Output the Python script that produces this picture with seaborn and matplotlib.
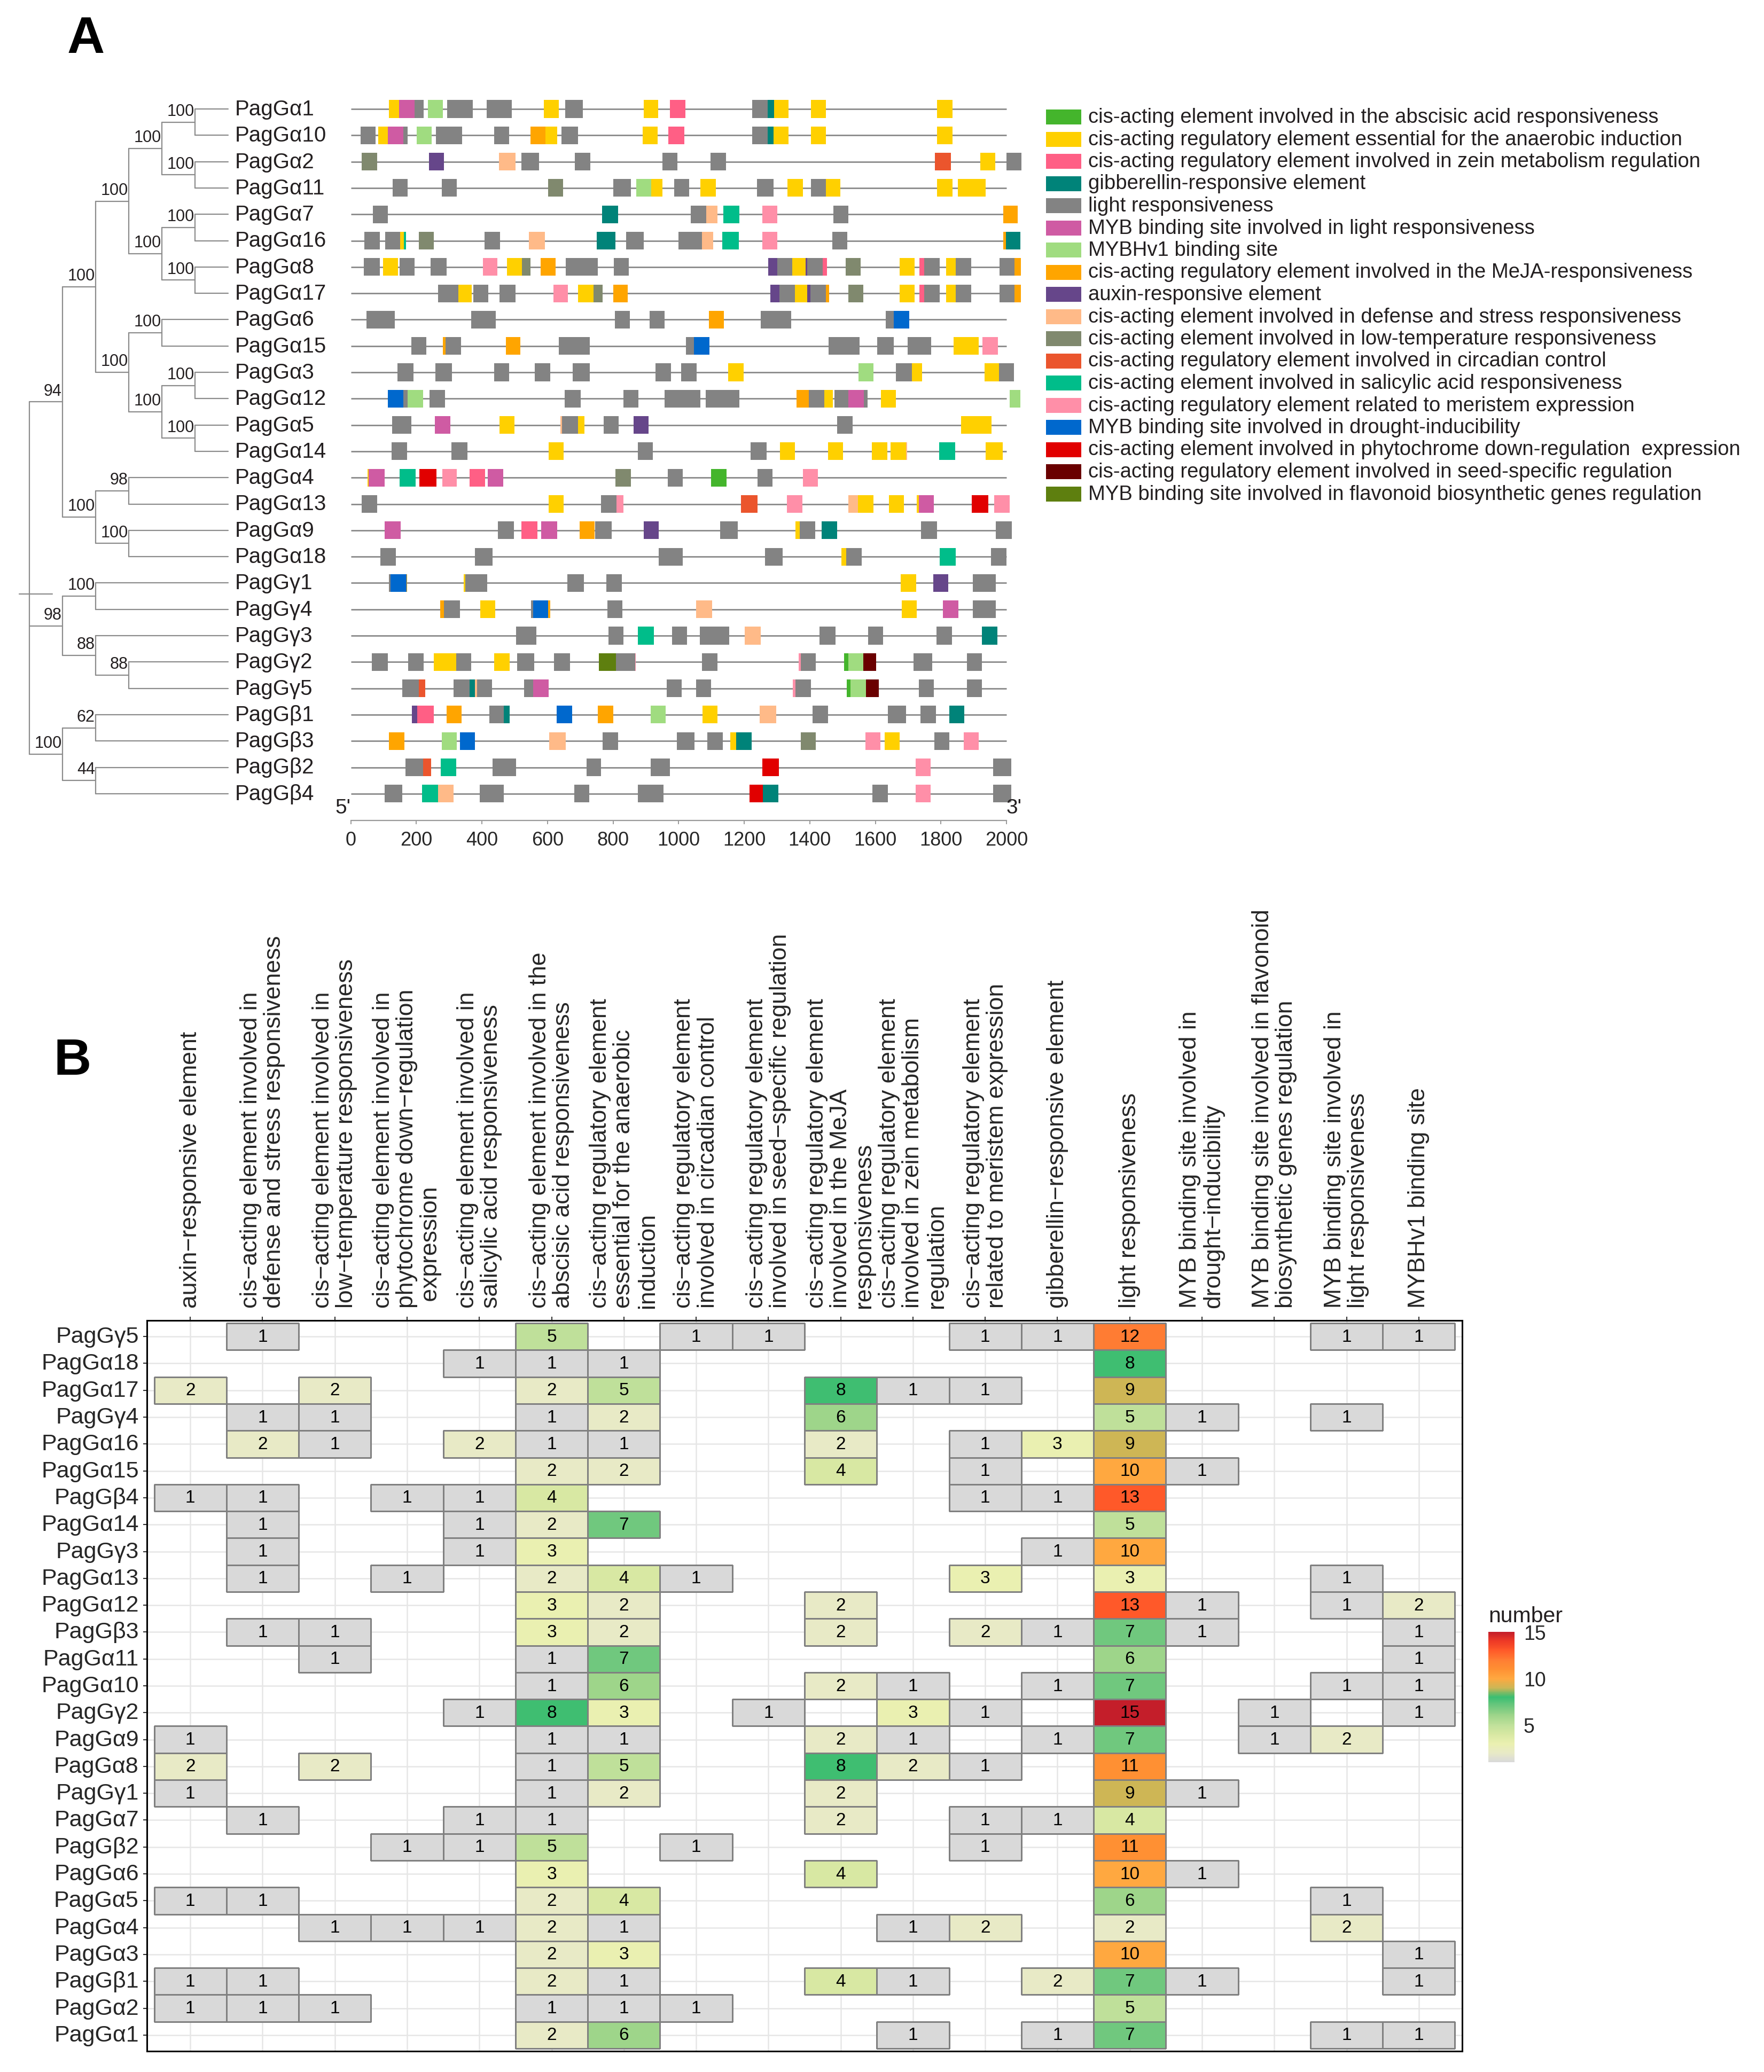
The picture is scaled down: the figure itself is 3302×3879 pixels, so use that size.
import numpy as np
import pandas as pd
import seaborn as sns
import matplotlib.pyplot as plt
from matplotlib.colors import LinearSegmentedColormap, to_rgba
from matplotlib.patches import Rectangle

sns.set_theme(style="white")
plt.rcParams['font.family'] = ['Liberation Sans', 'DejaVu Sans']
plt.rcParams['text.color'] = '#231f20'

W, H = 3302, 3880

# ---------------- panel A data ----------------
element_codes = ['aba', 'ana', 'zein', 'ga', 'light', 'mybl', 'hv1', 'meja', 'aux',
                 'def', 'lt', 'circ', 'sa', 'mer', 'dro', 'phy', 'seed', 'flav']
element_names = [
    'cis-acting element involved in the abscisic acid responsiveness',
    'cis-acting regulatory element essential for the anaerobic induction',
    'cis-acting regulatory element involved in zein metabolism regulation',
    'gibberellin-responsive element',
    'light responsiveness',
    'MYB binding site involved in light responsiveness',
    'MYBHv1 binding site',
    'cis-acting regulatory element involved in the MeJA-responsiveness',
    'auxin-responsive element',
    'cis-acting element involved in defense and stress responsiveness',
    'cis-acting element involved in low-temperature responsiveness',
    'cis-acting regulatory element involved in circadian control',
    'cis-acting element involved in salicylic acid responsiveness',
    'cis-acting regulatory element related to meristem expression',
    'MYB binding site involved in drought-inducibility',
    'cis-acting element involved in phytochrome down-regulation  expression',
    'cis-acting regulatory element involved in seed-specific regulation',
    'MYB binding site involved in flavonoid biosynthetic genes regulation',
]
element_colors = ['#44b52c', '#ffd000', '#ff5f85', '#008379', '#838383', '#cf5ba3',
                  '#a0dc80', '#ffa500', '#66468a', '#ffba88', '#80896e', '#eb552d',
                  '#00bd8a', '#ff8fa8', '#0068cd', '#e10000', '#6a0000', '#5e7f0f']

promoter_len = 2000

newick = ("((((((PagGα1,PagGα10)100,(PagGα2,PagGα11)100)100,((PagGα7,PagGα16)100,(PagGα8,PagGα17)100)100)100,"
          "((PagGα6,PagGα15)100,((PagGα3,PagGα12)100,(PagGα5,PagGα14)100)100)100)100,"
          "((PagGα4,PagGα13)98,(PagGα9,PagGα18)100)100)94,"
          "((PagGγ1,PagGγ4)100,(PagGγ3,(PagGγ2,PagGγ5)88)88)98,"
          "((PagGβ1,PagGβ3)62,(PagGβ2,PagGβ4)44)100);")

# motif hits per gene: (element, start bp, end bp)
ga1 = [('ana', 117, 147), ('mybl', 147, 194), ('light', 194, 223), ('hv1', 235, 281), ('light', 294, 372),
       ('light', 414, 491), ('ana', 589, 635), ('light', 654, 708), ('ana', 893, 938), ('zein', 973, 1021),
       ('light', 1225, 1271), ('ga', 1271, 1292), ('ana', 1292, 1336), ('ana', 1403, 1450), ('ana', 1788, 1835)]
ga10 = [('light', 30, 76), ('ana', 84, 113), ('mybl', 113, 160), ('light', 160, 174), ('hv1', 201, 247),
        ('light', 260, 339), ('light', 437, 483), ('meja', 548, 594), ('ana', 594, 629), ('light', 642, 694),
        ('ana', 890, 936), ('zein', 969, 1018), ('light', 1225, 1271), ('ga', 1271, 1290), ('ana', 1290, 1336),
        ('ana', 1403, 1449), ('ana', 1788, 1835)]
ga2 = [('lt', 34, 80), ('aux', 239, 285), ('def', 452, 502), ('light', 521, 575), ('light', 683, 731),
       ('light', 951, 996), ('light', 1098, 1145), ('circ', 1782, 1831), ('ana', 1920, 1966), ('light', 2000, 2046)]
ga11 = [('light', 128, 174), ('light', 277, 323), ('lt', 602, 648), ('light', 801, 854), ('hv1', 871, 917),
        ('ana', 917, 951), ('light', 986, 1032), ('ana', 1066, 1113), ('light', 1239, 1289), ('ana', 1332, 1379),
        ('light', 1403, 1449), ('ana', 1449, 1493), ('ana', 1788, 1835), ('ana', 1851, 1937)]
ga7 = [('light', 68, 114), ('ga', 767, 815), ('light', 1037, 1084), ('def', 1084, 1118), ('sa', 1136, 1185),
       ('mer', 1256, 1301), ('light', 1472, 1518), ('meja', 1991, 2035)]
ga16 = [('light', 42, 88), ('light', 105, 151), ('ana', 151, 162), ('sa', 162, 168), ('lt', 207, 253),
        ('light', 408, 456), ('def', 543, 592), ('ga', 750, 808), ('light', 840, 893), ('light', 999, 1071),
        ('def', 1071, 1106), ('sa', 1134, 1184), ('mer', 1255, 1301), ('light', 1469, 1514), ('meja', 1991, 1999),
        ('ga', 1999, 2043)]
ga8 = [('light', 40, 89), ('ana', 98, 144), ('light', 149, 195), ('light', 244, 293), ('mer', 403, 448),
       ('ana', 476, 522), ('lt', 522, 549), ('meja', 579, 625), ('light', 656, 754), ('light', 802, 848),
       ('aux', 1273, 1301), ('light', 1301, 1347), ('ana', 1347, 1387), ('aux', 1387, 1393), ('light', 1393, 1440),
       ('zein', 1440, 1453), ('lt', 1509, 1555), ('ana', 1674, 1720), ('zein', 1735, 1749), ('light', 1749, 1797),
       ('ana', 1816, 1846), ('light', 1846, 1892), ('light', 1979, 2025), ('meja', 2025, 2044)]
ga17 = [('light', 266, 329), ('ana', 329, 369), ('light', 374, 419), ('light', 454, 502), ('mer', 618, 663),
        ('ana', 694, 741), ('lt', 741, 768), ('meja', 800, 844), ('aux', 1280, 1307), ('light', 1307, 1354),
        ('ana', 1354, 1393), ('aux', 1393, 1402), ('light', 1402, 1449), ('meja', 1449, 1459), ('lt', 1518, 1564),
        ('ana', 1674, 1720), ('zein', 1735, 1749), ('light', 1749, 1797), ('ana', 1816, 1846), ('light', 1846, 1892),
        ('light', 1979, 2025), ('meja', 2025, 2044)]
ga6 = [('light', 48, 135), ('light', 368, 443), ('light', 806, 852), ('light', 911, 957), ('meja', 1093, 1138),
       ('light', 1251, 1343), ('light', 1631, 1656), ('dro', 1656, 1703)]
ga15 = [('light', 185, 231), ('meja', 281, 289), ('light', 289, 337), ('meja', 474, 518), ('light', 635, 729),
        ('light', 1022, 1047), ('dro', 1047, 1094), ('light', 1457, 1552), ('light', 1605, 1657),
        ('light', 1699, 1770), ('ana', 1839, 1916), ('mer', 1927, 1974)]
ga3 = [('light', 143, 191), ('light', 259, 309), ('light', 438, 483), ('light', 562, 609), ('light', 677, 729),
       ('light', 930, 977), ('light', 1008, 1055), ('ana', 1151, 1198), ('hv1', 1549, 1595), ('light', 1663, 1712),
       ('ana', 1712, 1742), ('ana', 1934, 1977), ('light', 1977, 2023)]
ga12 = [('dro', 114, 161), ('light', 161, 174), ('hv1', 174, 221), ('light', 241, 287), ('light', 653, 702),
        ('light', 832, 878), ('light', 957, 1067), ('light', 1082, 1185), ('meja', 1359, 1397), ('light', 1397, 1445),
        ('ana', 1445, 1471), ('light', 1475, 1518), ('mybl', 1518, 1565), ('light', 1565, 1576), ('ana', 1617, 1663),
        ('hv1', 2009, 2043)]
ga5 = [('light', 126, 185), ('mybl', 257, 304), ('ana', 454, 500), ('def', 640, 644), ('light', 644, 694),
       ('ana', 694, 713), ('light', 771, 817), ('aux', 863, 909), ('light', 1484, 1530), ('ana', 1861, 1955)]
ga14 = [('light', 124, 172), ('light', 307, 356), ('ana', 603, 650), ('light', 875, 921), ('light', 1219, 1268),
        ('ana', 1309, 1355), ('ana', 1455, 1501), ('ana', 1590, 1636), ('ana', 1647, 1693), ('def', 1693, 1697),
        ('sa', 1794, 1843), ('ana', 1937, 1988)]
ga4 = [('ana', 51, 55), ('mybl', 55, 103), ('sa', 149, 198), ('phy', 210, 261), ('mer', 279, 324),
       ('zein', 362, 410), ('mybl', 418, 465), ('lt', 807, 854), ('light', 967, 1013), ('aba', 1099, 1146),
       ('light', 1240, 1286), ('mer', 1379, 1425)]
ga13 = [('light', 33, 80), ('ana', 603, 650), ('light', 764, 810), ('mer', 810, 831), ('circ', 1191, 1240),
        ('mer', 1330, 1378), ('def', 1517, 1547), ('ana', 1547, 1594), ('ana', 1641, 1687), ('ana', 1727, 1732),
        ('mybl', 1732, 1779), ('phy', 1894, 1945), ('mer', 1963, 2010)]
ga9 = [('mybl', 104, 152), ('light', 449, 497), ('zein', 521, 570), ('mybl', 581, 629), ('meja', 698, 744),
       ('light', 746, 796), ('aux', 893, 939), ('light', 1127, 1180), ('ana', 1356, 1370), ('light', 1370, 1417),
       ('ga', 1437, 1484), ('light', 1739, 1789), ('light', 1968, 2016)]
ga18 = [('light', 91, 137), ('light', 379, 433), ('light', 940, 1012), ('light', 1264, 1317), ('ana', 1496, 1511),
        ('light', 1511, 1559), ('sa', 1796, 1845), ('light', 1952, 2000)]
gy1 = [('light', 116, 122), ('dro', 122, 170), ('meja', 170, 172), ('ana', 345, 349), ('light', 349, 416),
       ('light', 660, 712), ('light', 779, 827), ('ana', 1678, 1724), ('aux', 1776, 1822), ('light', 1898, 1968)]
gy4 = [('meja', 273, 285), ('light', 285, 333), ('ana', 395, 441), ('light', 550, 557), ('dro', 557, 602),
       ('meja', 602, 608), ('light', 783, 829), ('def', 1053, 1102), ('ana', 1680, 1726), ('mybl', 1806, 1853),
       ('light', 1898, 1968)]
gy3 = [('light', 504, 566), ('light', 786, 832), ('sa', 876, 925), ('light', 980, 1026), ('light', 1065, 1155),
       ('def', 1201, 1251), ('light', 1429, 1478), ('light', 1578, 1624), ('light', 1787, 1833), ('ga', 1925, 1972)]
gy2 = [('light', 65, 114), ('light', 175, 222), ('ana', 254, 322), ('light', 322, 368), ('ana', 438, 484),
       ('light', 508, 560), ('light', 620, 669), ('flav', 757, 809), ('light', 809, 867), ('mer', 867, 869),
       ('light', 1072, 1118), ('mer', 1366, 1372), ('light', 1372, 1419), ('aba', 1505, 1517), ('hv1', 1517, 1563),
       ('seed', 1563, 1602), ('light', 1717, 1774), ('light', 1879, 1925)]
gy5 = [('light', 157, 207), ('circ', 207, 227), ('light', 314, 363), ('ga', 363, 379), ('def', 379, 385),
       ('light', 385, 431), ('light', 528, 556), ('mybl', 556, 604), ('light', 963, 1010), ('light', 1053, 1099),
       ('mer', 1349, 1357), ('light', 1357, 1403), ('aba', 1513, 1525), ('hv1', 1525, 1571), ('seed', 1571, 1610),
       ('light', 1732, 1779), ('light', 1879, 1925)]
gb1 = [('aux', 187, 203), ('zein', 203, 253), ('meja', 293, 338), ('light', 422, 467), ('ga', 467, 484),
       ('dro', 628, 675), ('meja', 754, 800), ('hv1', 915, 961), ('ana', 1073, 1119), ('def', 1248, 1297),
       ('light', 1408, 1455), ('light', 1638, 1693), ('light', 1738, 1785), ('ga', 1826, 1872)]
gb3 = [('meja', 117, 163), ('hv1', 277, 323), ('dro', 333, 379), ('def', 606, 656), ('light', 769, 816),
       ('light', 995, 1048), ('light', 1088, 1135), ('ana', 1157, 1176), ('ga', 1176, 1223), ('lt', 1372, 1418),
       ('mer', 1570, 1616), ('ana', 1628, 1674), ('light', 1780, 1826), ('mer', 1870, 1916)]
gb2 = [('light', 167, 220), ('circ', 220, 245), ('sa', 274, 322), ('light', 432, 504), ('light', 719, 764),
       ('light', 915, 973), ('phy', 1255, 1306), ('mer', 1723, 1768), ('light', 1960, 2014)]
gb4 = [('light', 103, 157), ('sa', 218, 267), ('def', 267, 314), ('light', 393, 466), ('light', 682, 728),
       ('light', 875, 954), ('phy', 1216, 1257), ('ga', 1257, 1305), ('light', 1591, 1638), ('mer', 1723, 1769),
       ('light', 1960, 2014)]

motif_tracks = {
    'PagGα1': ga1, 'PagGα10': ga10, 'PagGα2': ga2, 'PagGα11': ga11, 'PagGα7': ga7, 'PagGα16': ga16,
    'PagGα8': ga8, 'PagGα17': ga17, 'PagGα6': ga6, 'PagGα15': ga15, 'PagGα3': ga3, 'PagGα12': ga12,
    'PagGα5': ga5, 'PagGα14': ga14, 'PagGα4': ga4, 'PagGα13': ga13, 'PagGα9': ga9, 'PagGα18': ga18,
    'PagGγ1': gy1, 'PagGγ4': gy4, 'PagGγ3': gy3, 'PagGγ2': gy2, 'PagGγ5': gy5,
    'PagGβ1': gb1, 'PagGβ3': gb3, 'PagGβ2': gb2, 'PagGβ4': gb4,
}

# ---------------- panel B data ----------------
heat_genes = ['PagGγ5', 'PagGα18', 'PagGα17', 'PagGγ4', 'PagGα16', 'PagGα15', 'PagGβ4', 'PagGα14', 'PagGγ3',
              'PagGα13', 'PagGα12', 'PagGβ3', 'PagGα11', 'PagGα10', 'PagGγ2', 'PagGα9', 'PagGα8', 'PagGγ1',
              'PagGα7', 'PagGβ2', 'PagGα6', 'PagGα5', 'PagGα4', 'PagGα3', 'PagGβ1', 'PagGα2', 'PagGα1']
heat_elements = [
    'auxin−responsive element',
    'cis−acting element involved in\ndefense and stress responsiveness',
    'cis−acting element involved in\nlow−temperature responsiveness',
    'cis−acting element involved in\nphytochrome down−regulation\n expression',
    'cis−acting element involved in\nsalicylic acid responsiveness',
    'cis−acting element involved in the\nabscisic acid responsiveness',
    'cis−acting regulatory element\nessential for the anaerobic\ninduction',
    'cis−acting regulatory element\ninvolved in circadian control',
    'cis−acting regulatory element\ninvolved in seed−specific regulation',
    'cis−acting regulatory element\ninvolved in the MeJA\nresponsiveness',
    'cis−acting regulatory element\ninvolved in zein metabolism\nregulation',
    'cis−acting regulatory element\nrelated to meristem expression',
    'gibberellin−responsive element',
    'light responsiveness',
    'MYB binding site involved in\ndrought−inducibility',
    'MYB binding site involved in flavonoid\nbiosynthetic genes regulation',
    'MYB binding site involved in\nlight responsiveness',
    'MYBHv1 binding site',
]
element_counts = [
    [0, 1, 0, 0, 0, 5, 0, 1, 1, 0, 0, 1, 1, 12, 0, 0, 1, 1],
    [0, 0, 0, 0, 1, 1, 1, 0, 0, 0, 0, 0, 0, 8, 0, 0, 0, 0],
    [2, 0, 2, 0, 0, 2, 5, 0, 0, 8, 1, 1, 0, 9, 0, 0, 0, 0],
    [0, 1, 1, 0, 0, 1, 2, 0, 0, 6, 0, 0, 0, 5, 1, 0, 1, 0],
    [0, 2, 1, 0, 2, 1, 1, 0, 0, 2, 0, 1, 3, 9, 0, 0, 0, 0],
    [0, 0, 0, 0, 0, 2, 2, 0, 0, 4, 0, 1, 0, 10, 1, 0, 0, 0],
    [1, 1, 0, 1, 1, 4, 0, 0, 0, 0, 0, 1, 1, 13, 0, 0, 0, 0],
    [0, 1, 0, 0, 1, 2, 7, 0, 0, 0, 0, 0, 0, 5, 0, 0, 0, 0],
    [0, 1, 0, 0, 1, 3, 0, 0, 0, 0, 0, 0, 1, 10, 0, 0, 0, 0],
    [0, 1, 0, 1, 0, 2, 4, 1, 0, 0, 0, 3, 0, 3, 0, 0, 1, 0],
    [0, 0, 0, 0, 0, 3, 2, 0, 0, 2, 0, 0, 0, 13, 1, 0, 1, 2],
    [0, 1, 1, 0, 0, 3, 2, 0, 0, 2, 0, 2, 1, 7, 1, 0, 0, 1],
    [0, 0, 1, 0, 0, 1, 7, 0, 0, 0, 0, 0, 0, 6, 0, 0, 0, 1],
    [0, 0, 0, 0, 0, 1, 6, 0, 0, 2, 1, 0, 1, 7, 0, 0, 1, 1],
    [0, 0, 0, 0, 1, 8, 3, 0, 1, 0, 3, 1, 0, 15, 0, 1, 0, 1],
    [1, 0, 0, 0, 0, 1, 1, 0, 0, 2, 1, 0, 1, 7, 0, 1, 2, 0],
    [2, 0, 2, 0, 0, 1, 5, 0, 0, 8, 2, 1, 0, 11, 0, 0, 0, 0],
    [1, 0, 0, 0, 0, 1, 2, 0, 0, 2, 0, 0, 0, 9, 1, 0, 0, 0],
    [0, 1, 0, 0, 1, 1, 0, 0, 0, 2, 0, 1, 1, 4, 0, 0, 0, 0],
    [0, 0, 0, 1, 1, 5, 0, 1, 0, 0, 0, 1, 0, 11, 0, 0, 0, 0],
    [0, 0, 0, 0, 0, 3, 0, 0, 0, 4, 0, 0, 0, 10, 1, 0, 0, 0],
    [1, 1, 0, 0, 0, 2, 4, 0, 0, 0, 0, 0, 0, 6, 0, 0, 1, 0],
    [0, 0, 1, 1, 1, 2, 1, 0, 0, 0, 1, 2, 0, 2, 0, 0, 2, 0],
    [0, 0, 0, 0, 0, 2, 3, 0, 0, 0, 0, 0, 0, 10, 0, 0, 0, 1],
    [1, 1, 0, 0, 0, 2, 1, 0, 0, 4, 1, 0, 2, 7, 1, 0, 0, 1],
    [1, 1, 1, 0, 0, 1, 1, 1, 0, 0, 0, 0, 0, 5, 0, 0, 0, 0],
    [0, 0, 0, 0, 0, 2, 6, 0, 0, 0, 1, 0, 1, 7, 0, 0, 1, 1],
]
count_colors = ['#d9d9d9', '#e8eac6', '#eaf0b0', '#d7e8a3', '#bfe09a', '#9ed58a', '#6fc87e', '#3bbe72',
                '#cdb655', '#ffa840', '#ff9033', '#ff7d33', '#ff5a29', '#ee3a26', '#c41e2a']


# ---------------- helpers ----------------
def parse_newick(s, i=0):
    if s[i] == '(':
        kids = []
        i += 1
        while True:
            child, i = parse_newick(s, i)
            kids.append(child)
            if s[i] == ',':
                i += 1
            else:
                i += 1
                break
        j = i
        while s[i] not in ',);':
            i += 1
        return {'children': kids, 'support': s[j:i]}, i
    j = i
    while s[i] not in ',);':
        i += 1
    return {'name': s[j:i]}, i


def max_depth(node, d=0):
    if 'name' in node:
        return d
    return max(max_depth(c, d + 1) for c in node['children'])


def place(node, depth, leaf_x, leaves):
    if 'name' in node:
        node['x'] = leaf_x
        node['y'] = len(leaves)
        leaves.append(node['name'])
    else:
        node['x'] = depth
        for c in node['children']:
            place(c, depth + 1, leaf_x, leaves)
        node['y'] = np.mean([c['y'] for c in node['children']])


def add_px_axes(x0, y0, x1, y1):
    return fig.add_axes([x0 / W, 1 - y1 / H, (x1 - x0) / W, (y1 - y0) / H])


fig = plt.figure(figsize=(W / 100, H / 100), dpi=100)

# row mapping shared by tree and motif tracks
row0_px, row_step = 205, 49.3
top_px, bot_px = 160, 1537
ylim_rows = ((bot_px - row0_px) / row_step, (top_px - row0_px) / row_step)

# ---------------- tree ----------------
tree, _ = parse_newick(newick)
depth_max = max_depth(tree)
leaf_order = []
place(tree, 0, depth_max, leaf_order)

ax_t = add_px_axes(20, top_px, 640, bot_px)
ax_t.set_xlim((20 - 55) / 62, (640 - 55) / 62)
ax_t.set_ylim(*ylim_rows)
ax_t.axis('off')
tree_col = '#8c8c8c'


def draw_node(node):
    if 'name' in node:
        ax_t.text(node['x'] + 0.21, node['y'], node['name'], ha='left', va='center', fontsize=29)
        return
    ys = [c['y'] for c in node['children']]
    ax_t.plot([node['x'], node['x']], [min(ys), max(ys)], color=tree_col, lw=1.6)
    for c in node['children']:
        ax_t.plot([node['x'], c['x']], [c['y'], c['y']], color=tree_col, lw=1.6)
        draw_node(c)
    if node['support']:
        ax_t.text(node['x'] - 0.02, node['y'] - 0.42, node['support'], ha='right', va='center', fontsize=22)


draw_node(tree)
ax_t.plot([tree['x'] - 0.3, tree['x'] + 0.7], [tree['y'], tree['y']], color=tree_col, lw=1.6)

# ---------------- motif tracks ----------------
bp0_px, bp_scale = 656.5, 0.61375
ax_m = add_px_axes(600, top_px, 1960, bot_px)
ax_m.set_xlim((600 - bp0_px) / bp_scale, (1960 - bp0_px) / bp_scale)
ax_m.set_ylim(*ylim_rows)

rank = {g: k for k, g in enumerate(leaf_order)}
records = [(rank[g], el, s, e) for g, tr in motif_tracks.items() for el, s, e in tr]
motifs = pd.DataFrame(records, columns=['row', 'element', 'start', 'end'])

ax_m.hlines(np.arange(len(leaf_order)), 0, promoter_len, color='#8a8a8a', lw=2, zorder=2)
for el, col in zip(element_codes, element_colors):
    sub = motifs[motifs['element'] == el]
    ax_m.barh(sub['row'], sub['end'] - sub['start'], left=sub['start'], height=0.67,
              color=col, lw=0, zorder=3, clip_on=False)

for side in ['top', 'right', 'left']:
    ax_m.spines[side].set_visible(False)
ax_m.spines['bottom'].set_bounds(0, promoter_len)
ax_m.spines['bottom'].set_color('#9a9a9a')
ax_m.spines['bottom'].set_linewidth(1.6)
ax_m.set_yticks([])
ax_m.set_xticks(np.arange(0, promoter_len + 1, 200))
ax_m.tick_params(axis='x', bottom=True, length=5, width=1.4, color='#9a9a9a', labelsize=26, pad=9)
ax_m.text(0, 0.004, "5'", transform=ax_m.get_xaxis_transform(), ha='right', va='bottom', fontsize=28)
ax_m.text(promoter_len, 0.004, "3'", transform=ax_m.get_xaxis_transform(), ha='left', va='bottom', fontsize=28)
ax_m.patch.set_alpha(0)

# ---------------- legend ----------------
ax_l = add_px_axes(1940, 180, 3302, 960)
ax_l.set_xlim(1940, 3302)
ax_l.set_ylim(960, 180)
ax_l.axis('off')
for i, (name, col) in enumerate(zip(element_names, element_colors)):
    yc = 220 + 41.5 * i
    ax_l.add_patch(Rectangle((1958, yc - 14), 66, 28, color=col, lw=0))
    ax_l.text(2037, yc, name, ha='left', va='center', fontsize=27.5)

# ---------------- panel B heatmap ----------------
counts = pd.DataFrame(element_counts, index=heat_genes, columns=heat_elements)
empty = counts == 0
cmap = LinearSegmentedColormap.from_list('counts', list(zip(np.linspace(0, 1, len(count_colors)), count_colors)))

ax_h = add_px_axes(275, 2473, 2737, 3841)
ax_c = add_px_axes(2786, 3056, 2835, 3300)
sns.heatmap(counts, mask=empty, cmap=cmap, vmin=1, vmax=15, annot=True, fmt='d',
            annot_kws={'size': 24, 'color': 'black'}, linewidths=1.0, linecolor='#808080',
            ax=ax_h, cbar_ax=ax_c, cbar_kws={'ticks': [5, 10, 15]})

# only occupied cells get an outline
mesh = ax_h.collections[0]
edge = np.tile(to_rgba('#808080'), (empty.size, 1))
edge[empty.values.ravel()] = (0, 0, 0, 0)
mesh.set_edgecolor(edge)

ax_h.set_xlim(-0.1, len(heat_elements) + 0.1)
ax_h.set_ylim(len(heat_genes) + 0.1, -0.1)
ax_h.set_axisbelow(True)
ax_h.grid(True, color='#e6e6e6', lw=1.8)
for sp in ax_h.spines.values():
    sp.set_visible(True)
    sp.set_color('black')
    sp.set_linewidth(2.2)
ax_h.xaxis.tick_top()
ax_h.set_xticks(np.arange(len(heat_elements)) + 0.5)
ax_h.set_xticklabels(heat_elements, rotation=90, ha='center', va='bottom', multialignment='left',
                     fontsize=32, linespacing=1.1)
ax_h.set_yticks(np.arange(len(heat_genes)) + 0.5)
ax_h.set_yticklabels(heat_genes, rotation=0, fontsize=31)
ax_h.tick_params(axis='x', top=True, bottom=False, length=5, width=1.5, color='#333333', pad=12)
ax_h.tick_params(axis='y', left=True, length=5, width=1.5, color='#333333', pad=6)
ax_h.set_xlabel('')
ax_h.set_ylabel('')

cb = mesh.colorbar
cb.outline.set_visible(False)
ax_c.tick_params(labelsize=27, length=8, width=1.5, color='white', direction='in', pad=12,
                 left=True, right=True)
ax_c.set_title('number', loc='left', fontsize=29.5, pad=14)

# panel labels
fig.text(161 / W, 1 - 74 / H, 'A', fontsize=70, fontweight='bold', ha='center', va='center', color='black')
fig.text(136 / W, 1 - 1987 / H, 'B', fontsize=70, fontweight='bold', ha='center', va='center', color='black')

fig.savefig('out.png', dpi=100)
